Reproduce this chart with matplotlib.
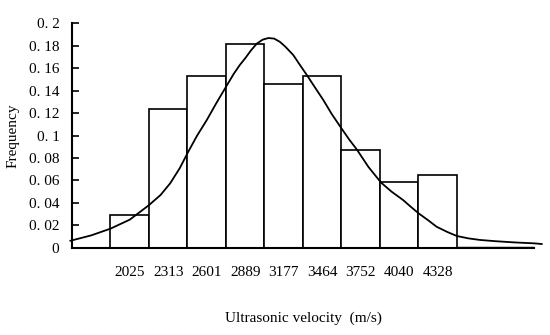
import matplotlib
matplotlib.use('Agg')
import matplotlib.pyplot as plt

plt.rcParams['font.family'] = ['Liberation Serif', 'DejaVu Serif']

# histogram classes (m/s) and relative frequencies
velocidades = ['2025', '2313', '2601', '2889', '3177', '3464', '3752', '4040', '4328']
freq = [0.029, 0.124, 0.153, 0.182, 0.146, 0.153, 0.087, 0.059, 0.065]
# two nearly empty classes on the right
freq_cauda = [0.001, 0.001]

# fitted curve (x in class units, y frequency)
curva_x = [-0.04, 0.5, 1.0, 1.5, 1.77, 2.0, 2.3, 2.55, 2.8, 3.02, 3.25, 3.5, 3.75,
           4.0, 4.2, 4.36, 4.5, 4.65, 4.8, 4.95, 5.1, 5.25, 5.4, 5.55, 5.75, 5.9,
           6.1, 6.3, 6.53, 6.75, 7.0, 7.2, 7.4, 7.7, 8.03, 8.3, 8.6, 8.8, 9.0, 9.25,
           9.47, 9.75, 10.0, 10.3, 10.6, 11.0, 11.5, 12.0, 12.2]
curva_y = [0.0062, 0.011, 0.017, 0.025, 0.032, 0.038, 0.047, 0.0574, 0.071, 0.0856,
           0.1, 0.1138, 0.129, 0.1435, 0.155, 0.163, 0.169, 0.176, 0.182, 0.1855,
           0.187, 0.1865, 0.1836, 0.179, 0.1717, 0.164, 0.154, 0.1435, 0.1316, 0.119,
           0.1064, 0.0965, 0.0875, 0.072, 0.058, 0.05, 0.0425, 0.0365, 0.0307, 0.0245,
           0.0187, 0.014, 0.0104, 0.0083, 0.0069, 0.0058, 0.0047, 0.0039, 0.0033]

yticks = [0, 0.02, 0.04, 0.06, 0.08, 0.1, 0.12, 0.14, 0.16, 0.18, 0.2]
ytick_labels = ['0', '0. 02', '0. 04', '0. 06', '0. 08', '0. 1', '0. 12', '0. 14',
                '0. 16', '0. 18', '0. 2']

fig = plt.figure(figsize=(5.5, 3.35), dpi=100)
ax = fig.add_axes([0.1309, 0.2606, 0.84, 0.6694])

pos = [i + 1.5 for i in range(len(freq))]
ax.bar(pos, freq, width=1.0, color='white', edgecolor='black', linewidth=1.2)
pos_cauda = [len(freq) + 1.5 + i for i in range(len(freq_cauda))]
ax.bar(pos_cauda, freq_cauda, width=1.0, color='white', edgecolor='black', linewidth=1.0)

ax.plot(curva_x, curva_y, color='black', linewidth=1.3, clip_on=False)

ax.set_xlim(0, 12)
ax.set_ylim(0, 0.2)
ax.set_xticks(pos)
ax.set_xticklabels(velocidades, fontsize=11)
ax.tick_params(axis='x', length=0, pad=13)
ax.set_yticks(yticks)
ax.set_yticklabels(ytick_labels, fontsize=11)
ax.tick_params(axis='y', direction='in', length=5, width=1.2, pad=9)

for s in ['top', 'right']:
    ax.spines[s].set_visible(False)
ax.spines['left'].set_linewidth(1.5)
ax.spines['bottom'].set_linewidth(1.5)

ax.set_ylabel('Frequency', fontsize=11, labelpad=7)
fig.text(0.551, 0.051, 'Ultrasonic velocity  (m/s)', ha='center', va='center', fontsize=11)

plt.savefig('out.png', dpi=100)
